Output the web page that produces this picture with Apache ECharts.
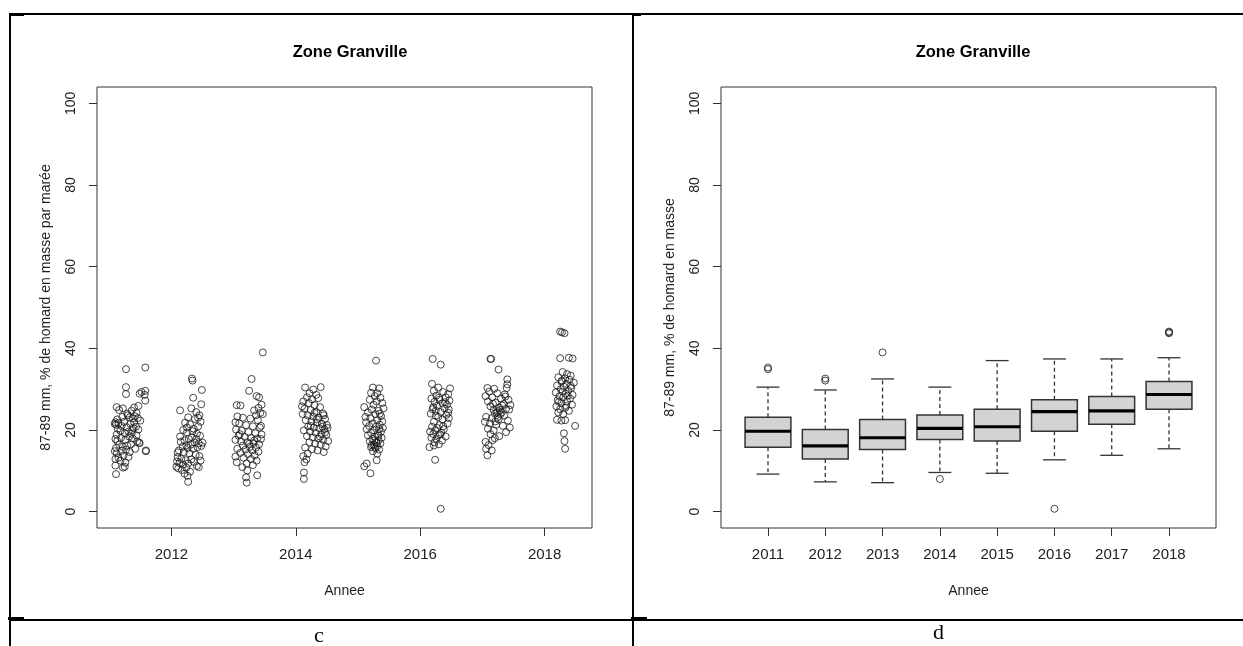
<!DOCTYPE html>
<html>
<head>
<meta charset="utf-8">
<script src="https://cdn.jsdelivr.net/npm/echarts@6/dist/echarts.min.js"></script>
<style>
  html, body { margin: 0; padding: 0; background: #ffffff; }
  #chart { width: 1243px; height: 646px; }
</style>
</head>
<body>
<div id="chart"></div>
<script>
// ---- Data -------------------------------------------------------------
const years = ['2011', '2012', '2013', '2014', '2015', '2016', '2017', '2018'];
const scatterTicks = [2012, 2014, 2016, 2018];
const percentTicks = [0, 20, 40, 60, 80, 100];

// One point per tide: [date as decimal year, % of 87-89 mm lobster by mass]
const tides2011 = [[2011.27,34.9],[2011.58,35.3],[2011.27,30.5],[2011.27,28.8],[2011.49,28.9],[2011.52,29.3],[2011.58,29.6],[2011.57,28.6],[2011.58,27.2],[2011.59,14.8],[2011.59,15.0],
  [2011.12,25.6],[2011.16,24.9],[2011.22,25.3],[2011.30,23.6],[2011.36,24.7],[2011.40,25.5],[2011.44,24.2],[2011.46,22.9],[2011.38,22.8],[2011.33,23.1],[2011.13,22.6],[2011.10,21.9],[2011.11,21.3],[2011.15,21.7],[2011.20,21.0],[2011.24,22.0],[2011.28,20.7],[2011.34,21.5],[2011.40,21.9],[2011.43,20.8],[2011.47,20.1],[2011.37,20.0],[2011.31,19.6],[2011.25,19.2],[2011.18,19.8],[2011.12,18.9],[2011.10,17.8],[2011.13,17.3],[2011.19,18.1],[2011.26,17.6],[2011.32,18.4],[2011.38,17.9],[2011.44,18.7],[2011.48,16.9],[2011.35,16.5],[2011.29,16.2],[2011.22,15.9],[2011.16,16.4],[2011.11,15.6],[2011.09,14.8],[2011.12,14.3],[2011.20,14.9],[2011.27,15.2],[2011.33,14.6],[2011.42,15.4],[2011.49,16.8],[2011.23,13.7],[2011.15,13.2],[2011.10,12.9],[2011.18,12.5],[2011.26,12.0],[2011.31,13.4],[2011.10,11.3],[2011.22,10.8],[2011.25,11.0],[2011.11,9.2],[2011.39,20.5],[2011.41,23.4],[2011.29,24.0],[2011.21,23.2],[2011.45,17.2],[2011.36,19.1],[2011.14,20.3],[2011.09,21.5],[2011.50,22.3],[2011.47,25.9]];
const tides2012 = [[2012.33,32.6],[2012.34,32.1],[2012.49,29.8],[2012.35,27.9],[2012.48,26.3],[2012.14,24.8],[2012.32,25.3],[2012.40,24.4],[2012.45,23.6],[2012.27,23.1],[2012.38,22.7],[2012.47,22.0],[2012.22,21.8],[2012.30,21.4],[2012.43,20.9],[2012.36,20.3],[2012.19,20.0],[2012.25,19.4],[2012.41,19.1],[2012.46,18.6],[2012.33,18.2],[2012.28,17.8],[2012.21,17.5],[2012.15,17.1],[2012.37,17.0],[2012.44,16.7],[2012.31,16.4],[2012.24,16.2],[2012.18,15.9],[2012.26,15.6],[2012.35,15.4],[2012.42,15.8],[2012.48,16.1],[2012.12,15.0],[2012.20,14.6],[2012.29,14.3],[2012.39,14.0],[2012.45,13.6],[2012.10,13.3],[2012.16,12.9],[2012.23,12.6],[2012.32,12.8],[2012.09,12.3],[2012.13,11.9],[2012.19,11.5],[2012.27,11.8],[2012.36,12.2],[2012.41,11.2],[2012.08,11.0],[2012.11,10.6],[2012.17,10.2],[2012.24,10.8],[2012.30,9.8],[2012.21,9.3],[2012.26,8.8],[2012.27,7.3],[2012.44,10.9],[2012.47,12.5],[2012.10,14.5],[2012.34,19.7],[2012.40,17.8],[2012.25,20.6],[2012.43,23.0],[2012.50,16.9],[2012.14,18.4]];
const tides2013 = [[2013.47,39.0],[2013.29,32.5],[2013.25,29.6],[2013.37,28.3],[2013.41,28.0],[2013.05,26.1],[2013.11,26.0],[2013.45,26.2],[2013.40,25.4],[2013.33,24.8],[2013.43,24.2],[2013.36,23.6],[2013.06,23.3],[2013.15,23.0],[2013.27,22.8],[2013.39,22.4],[2013.03,21.9],[2013.09,21.6],[2013.20,21.2],[2013.31,20.9],[2013.42,20.6],[2013.04,20.1],[2013.13,19.8],[2013.24,19.5],[2013.35,19.2],[2013.45,18.9],[2013.08,18.6],[2013.18,18.3],[2013.28,18.1],[2013.38,17.9],[2013.03,17.6],[2013.12,17.2],[2013.22,17.0],[2013.32,16.8],[2013.41,16.5],[2013.15,16.2],[2013.26,15.9],[2013.36,15.7],[2013.06,15.4],[2013.19,15.2],[2013.30,15.0],[2013.40,14.7],[2013.11,14.4],[2013.23,14.1],[2013.34,13.8],[2013.03,13.5],[2013.16,13.2],[2013.28,12.9],[2013.37,12.5],[2013.05,12.1],[2013.21,11.8],[2013.31,11.4],[2013.14,10.9],[2013.22,10.1],[2013.38,8.9],[2013.20,8.4],[2013.21,7.1],[2013.44,21.0],[2013.47,23.9],[2013.10,19.0],[2013.33,17.4],[2013.25,16.6],[2013.44,17.8]];
const tides2014 = [[2014.15,30.4],[2014.28,29.9],[2014.40,30.5],[2014.22,29.0],[2014.33,28.6],[2014.18,28.0],[2014.26,27.5],[2014.36,27.8],[2014.12,27.0],[2014.21,26.6],[2014.30,26.1],[2014.39,25.6],[2014.14,25.2],[2014.24,24.9],[2014.33,24.4],[2014.44,24.0],[2014.11,23.9],[2014.19,23.6],[2014.28,23.3],[2014.37,23.0],[2014.47,22.7],[2014.16,22.4],[2014.25,22.1],[2014.34,21.8],[2014.42,21.5],[2014.50,21.2],[2014.20,20.9],[2014.29,20.6],[2014.38,20.4],[2014.46,20.2],[2014.13,19.9],[2014.23,19.6],[2014.32,19.3],[2014.41,19.0],[2014.49,18.8],[2014.18,18.5],[2014.27,18.2],[2014.36,17.9],[2014.44,17.6],[2014.52,17.3],[2014.22,17.0],[2014.31,16.7],[2014.40,16.4],[2014.48,16.0],[2014.15,15.7],[2014.26,15.3],[2014.35,15.0],[2014.45,14.6],[2014.19,14.2],[2014.12,13.6],[2014.17,12.8],[2014.14,12.1],[2014.13,9.6],[2014.13,8.0],[2014.43,20.8],[2014.47,19.4],[2014.39,18.4],[2014.34,22.6],[2014.45,23.6],[2014.24,21.0],[2014.51,20.5],[2014.10,25.8],[2014.30,24.2]];
const tides2015 = [[2015.29,37.0],[2015.24,30.4],[2015.34,30.2],[2015.21,29.1],[2015.31,29.0],[2015.27,28.3],[2015.36,27.9],[2015.19,27.4],[2015.30,27.0],[2015.39,26.6],[2015.25,26.2],[2015.10,25.6],[2015.41,25.3],[2015.22,25.0],[2015.33,24.7],[2015.16,24.3],[2015.28,23.9],[2015.37,23.4],[2015.20,22.9],[2015.31,22.4],[2015.13,21.9],[2015.24,21.6],[2015.35,21.3],[2015.18,21.0],[2015.29,20.8],[2015.40,20.5],[2015.14,20.2],[2015.26,19.9],[2015.37,19.6],[2015.21,19.3],[2015.32,19.0],[2015.16,18.7],[2015.27,18.4],[2015.38,18.1],[2015.23,17.8],[2015.33,17.5],[2015.19,17.2],[2015.29,17.0],[2015.36,16.7],[2015.25,16.4],[2015.31,16.1],[2015.21,15.8],[2015.28,15.5],[2015.34,15.2],[2015.24,14.8],[2015.31,14.2],[2015.30,12.6],[2015.14,11.8],[2015.10,11.1],[2015.20,9.4],[2015.34,20.2],[2015.26,17.4],[2015.30,16.8],[2015.22,16.3],[2015.39,22.1],[2015.12,23.2],[2015.35,24.0],[2015.27,15.9],[2015.33,18.6]];
const tides2016 = [[2016.20,37.4],[2016.33,36.0],[2016.19,31.3],[2016.29,30.4],[2016.48,30.2],[2016.22,29.6],[2016.37,29.3],[2016.45,28.8],[2016.26,28.4],[2016.41,28.0],[2016.18,27.7],[2016.31,27.4],[2016.47,27.2],[2016.23,26.9],[2016.36,26.5],[2016.43,26.2],[2016.27,25.9],[2016.21,25.6],[2016.39,25.3],[2016.46,25.0],[2016.25,24.7],[2016.33,24.4],[2016.17,24.0],[2016.42,23.7],[2016.29,23.2],[2016.36,22.6],[2016.22,22.0],[2016.44,21.6],[2016.31,21.2],[2016.19,20.8],[2016.27,20.5],[2016.38,20.2],[2016.24,19.9],[2016.16,19.6],[2016.34,19.3],[2016.21,19.0],[2016.29,18.7],[2016.41,18.4],[2016.18,18.1],[2016.26,17.8],[2016.35,17.4],[2016.23,17.0],[2016.30,16.5],[2016.15,15.8],[2016.22,16.2],[2016.24,12.7],[2016.33,0.7],[2016.40,26.8],[2016.30,27.9],[2016.45,24.2],[2016.20,25.1],[2016.37,20.9],[2016.46,22.9],[2016.25,23.5],[2016.32,18.9]];
const tides2017 = [[2017.13,37.4],[2017.14,37.4],[2017.26,34.8],[2017.40,32.4],[2017.40,31.2],[2017.39,30.3],[2017.08,30.3],[2017.19,30.1],[2017.11,29.4],[2017.24,29.0],[2017.36,28.7],[2017.05,28.3],[2017.16,28.0],[2017.30,27.7],[2017.42,27.4],[2017.09,27.0],[2017.21,26.7],[2017.34,26.4],[2017.45,26.1],[2017.13,25.8],[2017.27,25.5],[2017.38,25.2],[2017.18,24.9],[2017.24,24.6],[2017.31,24.3],[2017.20,24.0],[2017.29,23.8],[2017.35,23.5],[2017.06,23.2],[2017.15,22.9],[2017.26,22.6],[2017.41,22.3],[2017.04,22.0],[2017.12,21.6],[2017.22,21.3],[2017.33,21.0],[2017.44,20.6],[2017.09,20.3],[2017.18,19.9],[2017.38,19.5],[2017.13,19.0],[2017.27,18.5],[2017.20,18.0],[2017.16,17.5],[2017.05,17.1],[2017.10,16.3],[2017.06,15.4],[2017.15,15.0],[2017.08,13.8],[2017.23,24.3],[2017.28,24.9],[2017.32,26.0],[2017.25,23.2],[2017.37,28.2],[2017.43,25.0],[2017.17,26.4],[2017.21,22.1]];
const tides2018 = [[2018.25,44.1],[2018.28,43.9],[2018.32,43.7],[2018.25,37.6],[2018.39,37.7],[2018.45,37.5],[2018.29,34.2],[2018.36,33.7],[2018.42,33.3],[2018.22,32.9],[2018.33,32.6],[2018.40,32.3],[2018.27,31.9],[2018.47,31.6],[2018.35,31.3],[2018.20,30.9],[2018.31,30.6],[2018.43,30.3],[2018.26,30.0],[2018.38,29.6],[2018.18,29.2],[2018.34,28.9],[2018.45,28.6],[2018.24,28.3],[2018.30,28.0],[2018.41,27.7],[2018.21,27.3],[2018.36,27.0],[2018.27,26.6],[2018.44,26.2],[2018.19,25.8],[2018.33,25.4],[2018.25,25.1],[2018.39,24.7],[2018.22,24.3],[2018.30,23.9],[2018.20,22.5],[2018.27,22.3],[2018.33,22.4],[2018.49,21.0],[2018.31,19.2],[2018.32,17.3],[2018.33,15.4],[2018.29,29.4],[2018.37,28.4],[2018.42,30.8],[2018.23,26.9],[2018.35,25.9],[2018.28,32.1]];

// Box plot statistics per year (whisker ends, quartiles, median)
const whiskerLow  = [9.2, 7.3, 7.1, 9.6, 9.4, 12.7, 13.8, 15.4];
const quartile1   = [15.8, 12.9, 15.2, 17.7, 17.3, 19.7, 21.4, 25.1];
const medians     = [19.7, 16.1, 18.1, 20.4, 20.8, 24.5, 24.7, 28.7];
const quartile3   = [23.1, 20.1, 22.6, 23.7, 25.1, 27.4, 28.2, 31.9];
const whiskerHigh = [30.5, 29.8, 32.5, 30.5, 37.0, 37.4, 37.4, 37.7];
// Outlying tides: [year position (1 = 2011), value]
const outliers = [[1,34.9],[1,35.3],[2,32.1],[2,32.6],[3,39.0],[4,8.0],[6,0.7],[8,43.7],[8,43.9],[8,44.1]];

// ---- Chart ------------------------------------------------------------
const FONT = 'Liberation Sans, Arial, sans-serif';
const INK = '#222';
const allTides = [].concat(tides2011, tides2012, tides2013, tides2014,
                           tides2015, tides2016, tides2017, tides2018);
const boxRows = years.map((y, i) =>
  [i + 1, whiskerLow[i], quartile1[i], medians[i], quartile3[i], whiskerHigh[i]]);
const boxPositions = years.map((y, i) => i + 1);

function frameGrid(left) {
  return { left: left, top: 87, width: 495, height: 441, show: true,
           borderColor: '#333', borderWidth: 1, backgroundColor: 'transparent' };
}
function percentAxis(gridIndex, title) {
  return {
    gridIndex, type: 'value', min: -4, max: 104,
    axisLine: { show: false, onZero: false }, splitLine: { show: false },
    axisTick: { show: true, inside: false, length: 8, customValues: percentTicks,
                lineStyle: { color: '#333', width: 1 } },
    axisLabel: { customValues: percentTicks, rotate: 90, margin: 19, fontSize: 14,
                 color: INK, fontFamily: FONT, formatter: v => String(v) },
    name: title, nameLocation: 'middle', nameGap: 44, nameRotate: 90,
    nameTextStyle: { fontSize: 14, color: INK, fontFamily: FONT }
  };
}
function yearAxis(gridIndex, min, max, ticks, fmt) {
  return {
    gridIndex, type: 'value', min, max,
    axisLine: { show: false, onZero: false }, splitLine: { show: false },
    axisTick: { show: true, inside: false, length: 8, customValues: ticks,
                lineStyle: { color: '#333', width: 1 } },
    axisLabel: { customValues: ticks, margin: 19, fontSize: 15, color: INK,
                 fontFamily: FONT, formatter: fmt },
    name: 'Annee', nameLocation: 'middle', nameGap: 56,
    nameTextStyle: { fontSize: 14, color: INK, fontFamily: FONT }
  };
}

function renderBox(params, api) {
  const pos = api.value(0);
  const lo = api.coord([pos, api.value(1)]);
  const q1 = api.coord([pos, api.value(2)]);
  const md = api.coord([pos, api.value(3)]);
  const q3 = api.coord([pos, api.value(4)]);
  const hi = api.coord([pos, api.value(5)]);
  const halfBox = api.size([0.4, 0])[0];
  const halfCap = api.size([0.2, 0])[0];
  const x = md[0];
  const solid = { stroke: '#333', lineWidth: 1.3, fill: null };
  const dashed = { stroke: '#333', lineWidth: 1.3, lineDash: [4, 3], fill: null };
  return {
    type: 'group',
    children: [
      { type: 'line', shape: { x1: x, y1: q3[1], x2: x, y2: hi[1] }, style: dashed },
      { type: 'line', shape: { x1: x, y1: q1[1], x2: x, y2: lo[1] }, style: dashed },
      { type: 'line', shape: { x1: x - halfCap, y1: hi[1], x2: x + halfCap, y2: hi[1] }, style: solid },
      { type: 'line', shape: { x1: x - halfCap, y1: lo[1], x2: x + halfCap, y2: lo[1] }, style: solid },
      { type: 'rect', shape: { x: x - halfBox, y: q3[1], width: 2 * halfBox, height: q1[1] - q3[1] },
        style: { fill: '#d3d3d3', stroke: '#333', lineWidth: 1.5 } },
      { type: 'line', shape: { x1: x - halfBox, y1: md[1], x2: x + halfBox, y2: md[1] },
        style: { stroke: '#000', lineWidth: 3.2 } }
    ]
  };
}

// Page table around the two panels
const tableLine = (x1, y1, x2, y2) => ({ type: 'line', shape: { x1, y1, x2, y2 },
  style: { stroke: '#000', lineWidth: 2 }, silent: true });
const SERIF = 'Liberation Serif, Times New Roman, serif';

const chart = echarts.init(document.getElementById('chart'), null, { renderer: 'canvas' });
chart.setOption({
  animation: false,
  backgroundColor: '#ffffff',
  title: [
    { text: 'Zone Granville', left: 345, top: 39, textAlign: 'center',
      textStyle: { fontSize: 16.5, fontWeight: 'bold', color: '#000', fontFamily: FONT } },
    { text: 'Zone Granville', left: 968, top: 39, textAlign: 'center',
      textStyle: { fontSize: 16.5, fontWeight: 'bold', color: '#000', fontFamily: FONT } }
  ],
  grid: [frameGrid(97), frameGrid(721)],
  xAxis: [
    yearAxis(0, 2010.804, 2018.762, scatterTicks, v => String(v)),
    yearAxis(1, 0.18, 8.82, boxPositions, v => years[Math.round(v) - 1])
  ],
  yAxis: [
    percentAxis(0, '87-89 mm, % de homard en masse par marée'),
    percentAxis(1, '87-89 mm, % de homard en masse')
  ],
  series: [
    { type: 'scatter', xAxisIndex: 0, yAxisIndex: 0, data: allTides,
      symbol: 'circle', symbolSize: 7,
      itemStyle: { color: 'transparent', borderColor: '#1a1a1a', borderWidth: 1 } },
    { type: 'custom', xAxisIndex: 1, yAxisIndex: 1, data: boxRows, renderItem: renderBox,
      encode: { x: 0, y: [1, 2, 3, 4, 5] } },
    { type: 'scatter', xAxisIndex: 1, yAxisIndex: 1, data: outliers,
      symbol: 'circle', symbolSize: 7,
      itemStyle: { color: 'transparent', borderColor: '#1a1a1a', borderWidth: 1 } }
  ],
  graphic: [
    tableLine(9, 14, 1243, 14),
    tableLine(10, 13, 10, 646),
    tableLine(633, 13, 633, 646),
    tableLine(9, 620, 1243, 620),
    { type: 'rect', shape: { x: 10, y: 13, width: 14, height: 3 }, style: { fill: '#000' }, silent: true },
    { type: 'rect', shape: { x: 633, y: 13, width: 8, height: 3 }, style: { fill: '#000' }, silent: true },
    { type: 'rect', shape: { x: 8, y: 617, width: 16, height: 3 }, style: { fill: '#000' }, silent: true },
    { type: 'rect', shape: { x: 631, y: 617, width: 16, height: 3 }, style: { fill: '#000' }, silent: true },
    { type: 'text', left: 314, top: 625, silent: true,
      style: { text: 'c', fontSize: 22, fontFamily: SERIF, fill: '#000' } },
    { type: 'text', left: 933, top: 622, silent: true,
      style: { text: 'd', fontSize: 22, fontFamily: SERIF, fill: '#000' } }
  ]
});
</script>
</body>
</html>
